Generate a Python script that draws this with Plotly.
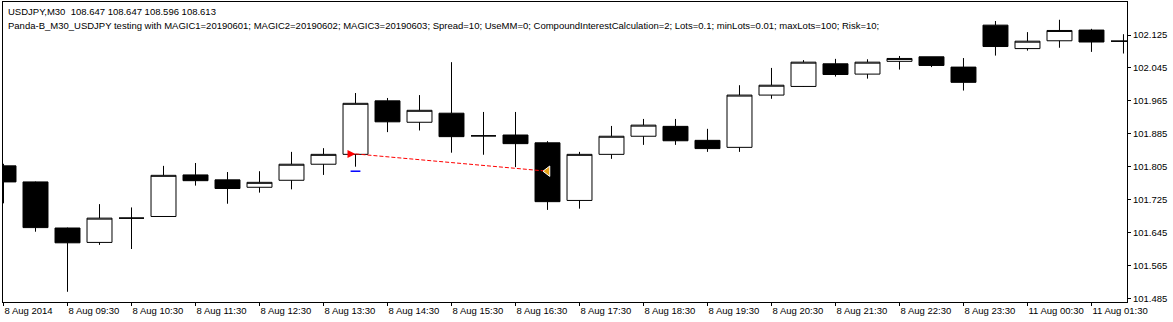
import plotly.graph_objects as go

# USDJPY M30 bars, 8 Aug 2014 08:30 .. 11 Aug 2014 02:00
bar_index = list(range(36))
opens = [101.807, 101.768, 101.656, 101.621, 101.680, 101.684, 101.785, 101.773,
         101.755, 101.772, 101.811, 101.835, 101.965, 101.913, 101.935, 101.880,
         101.882, 101.863, 101.723, 101.835, 101.879, 101.903, 101.869, 101.852,
         101.979, 102.000, 102.055, 102.030, 102.061, 102.072, 102.047, 102.149,
         102.092, 102.111, 102.137, 102.110]
highs = [101.812, 101.769, 101.657, 101.714, 101.706, 101.807, 101.814, 101.792,
         101.794, 101.841, 101.850, 101.984, 101.972, 101.979, 102.059, 101.938,
         101.938, 101.867, 101.841, 101.904, 101.921, 101.921, 101.897, 102.003,
         102.045, 102.064, 102.067, 102.066, 102.074, 102.072, 102.069, 102.159,
         102.132, 102.162, 102.140, 102.127]
lows = [101.716, 101.647, 101.501, 101.615, 101.605, 101.684, 101.759, 101.715,
        101.742, 101.750, 101.785, 101.805, 101.889, 101.893, 101.839, 101.834,
        101.804, 101.700, 101.703, 101.824, 101.858, 101.858, 101.841, 101.841,
        101.970, 101.999, 102.024, 102.019, 102.041, 102.047, 101.990, 102.075,
        102.087, 102.094, 102.084, 102.080]
closes = [101.768, 101.657, 101.620, 101.680, 101.680, 101.784, 101.771, 101.752,
          101.767, 101.811, 101.835, 101.959, 101.914, 101.942, 101.878, 101.880,
          101.861, 101.720, 101.835, 101.879, 101.906, 101.868, 101.849, 101.979,
          102.003, 102.059, 102.029, 102.059, 102.068, 102.051, 102.010, 102.097,
          102.110, 102.136, 102.108, 102.110]

tick_positions = bar_index[::2]
tick_labels = ["8 Aug 2014", "8 Aug 09:30", "8 Aug 10:30", "8 Aug 11:30",
               "8 Aug 12:30", "8 Aug 13:30", "8 Aug 14:30", "8 Aug 15:30",
               "8 Aug 16:30", "8 Aug 17:30", "8 Aug 18:30", "8 Aug 19:30",
               "8 Aug 20:30", "8 Aug 21:30", "8 Aug 22:30", "8 Aug 23:30",
               "11 Aug 00:30", "11 Aug 01:30"]
price_ticks = [101.485, 101.565, 101.645, 101.725, 101.805,
               101.885, 101.965, 102.045, 102.125]

# Tested trade: entry / exit bar and price, plus the level marker
trade_bars = [11, 17]
trade_prices = [101.836, 101.794]
level_bar = [11]
level_price = [101.794]

header_line1 = "USDJPY,M30\u00a0 108.647 108.647 108.596 108.613"
header_line2 = ("Panda-B_M30_USDJPY testing with MAGIC1=20190601; MAGIC2=20190602; "
                "MAGIC3=20190603; Spread=10; UseMM=0; CompoundInterestCalculation=2; "
                "Lots=0.1; minLots=0.01; maxLots=100; Risk=10;")

FONT = "Liberation Sans, Arial, sans-serif"
FSIZE = 9.5

fig = go.Figure()
fig.add_trace(go.Candlestick(
    x=bar_index, open=opens, high=highs, low=lows, close=closes,
    increasing=dict(line=dict(color="black", width=1), fillcolor="white"),
    decreasing=dict(line=dict(color="black", width=1), fillcolor="black"),
    whiskerwidth=0, showlegend=False, hoverinfo="skip",
))
fig.add_trace(go.Scatter(
    x=trade_bars, y=trade_prices, mode="lines",
    line=dict(color="red", width=1, dash="4px,2px"),
    showlegend=False, hoverinfo="skip",
))
fig.add_trace(go.Scatter(
    x=level_bar, y=level_price, mode="markers",
    marker=dict(symbol="line-ew", size=7, line=dict(color="#0000ff", width=1.5)),
    showlegend=False, hoverinfo="skip",
))
fig.add_trace(go.Scatter(
    x=trade_bars[:1], y=trade_prices[:1], mode="markers",
    marker=dict(symbol="arrow-right", size=8, color="red"),
    showlegend=False, hoverinfo="skip",
))
fig.add_trace(go.Scatter(
    x=trade_bars[1:], y=trade_prices[1:], mode="markers",
    marker=dict(symbol="triangle-left", size=9, color="#e8a317",
                line=dict(color="white", width=1)),
    showlegend=False, hoverinfo="skip",
))

fig.add_annotation(text=header_line1, xref="paper", yref="paper", x=0, y=1,
                   xanchor="left", yanchor="middle", xshift=3, yshift=-9,
                   showarrow=False, font=dict(family=FONT, size=FSIZE, color="black"))
fig.add_annotation(text=header_line2, xref="paper", yref="paper", x=0, y=1,
                   xanchor="left", yanchor="middle", xshift=3, yshift=-23,
                   showarrow=False, font=dict(family=FONT, size=FSIZE, color="black"))

axis_common = dict(
    showline=True, linecolor="black", linewidth=1, mirror=True,
    showgrid=False, zeroline=False, ticks="outside", ticklen=3,
    tickcolor="black", tickwidth=1, automargin=False,
    tickfont=dict(family=FONT, size=FSIZE, color="black"),
)

fig.update_layout(
    width=1173, height=322,
    margin=dict(l=3, r=46, t=2, b=20),
    paper_bgcolor="white", plot_bgcolor="white",
    boxgap=0.22, boxgroupgap=0,
    showlegend=False,
    xaxis=dict(range=[-0.016, 35.11], tickvals=tick_positions, ticktext=tick_labels,
               tickangle=0, ticklabelposition="outside right",
               rangeslider=dict(visible=False), **axis_common),
    yaxis=dict(side="right", range=[101.4762, 102.2052], tickvals=price_ticks,
               ticktext=[f"{v:.3f}" for v in price_ticks], **axis_common),
)

fig.write_html("out.html")
